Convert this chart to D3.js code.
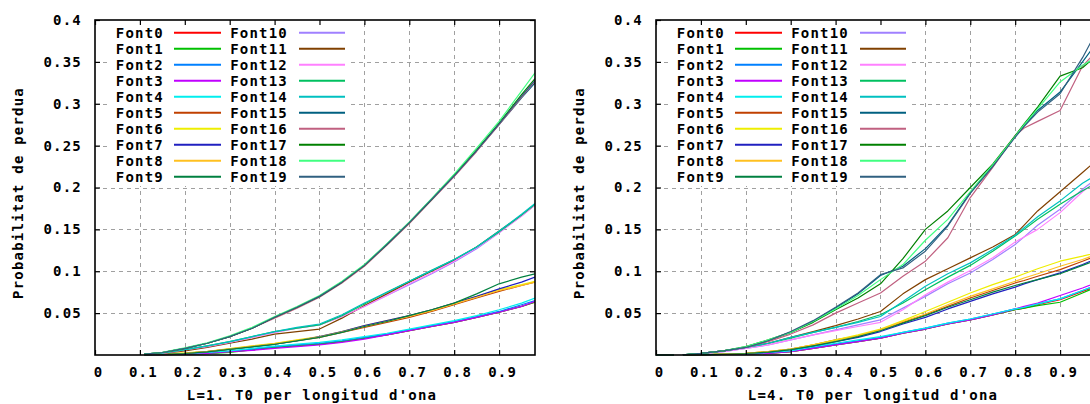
<!DOCTYPE html>
<html><head><meta charset="utf-8">
<script src="https://cdn.jsdelivr.net/npm/d3@7"></script>
<style>
body{margin:0;background:#fff}
text{font-family:"DejaVu Sans Mono","Liberation Mono",monospace;font-size:14px;font-weight:bold;letter-spacing:1.2px;fill:#000}
</style>
</head><body>
<svg id="c" width="1090" height="404"></svg>
<script>
// ---- data ----
const fontNames = ["Font0","Font1","Font2","Font3","Font4","Font5","Font6","Font7","Font8","Font9",
  "Font10","Font11","Font12","Font13","Font14","Font15","Font16","Font17","Font18","Font19"];
const fontColors = ["#ff0000","#00c000","#0080ff","#c000ff","#00eeee","#c04000","#eeee00","#2020c0","#ffc020","#008040",
  "#a080ff","#804000","#ff80ff","#00c060","#00c0c0","#006080","#c06080","#008000","#40ff80","#306080"];
const xTicks = [0,0.1,0.2,0.3,0.4,0.5,0.6,0.7,0.8,0.9];
const yTicks = [0.05,0.1,0.15,0.2,0.25,0.3,0.35,0.4];
const xLabels = ["L=1. T0 per longitud d'ona","L=4. T0 per longitud d'ona"];
const yLabel = "Probabilitat de perdua";

// L=1 panel
const leftX = [0.11,0.15,0.2,0.25,0.3,0.35,0.4,0.45,0.5,0.55,0.6,0.65,0.7,0.75,0.8,0.85,0.9,0.95,0.98];
const leftSeries = [
 [0.0003,0.0005,0.001,0.002,0.004,0.006,0.009,0.011,0.013,0.016,0.020,0.024,0.029,0.034,0.039,0.045,0.051,0.058,0.063], // Font0
 [0.0002,0.0004,0.0008,0.0015,0.003,0.006,0.009,0.011,0.013,0.016,0.020,0.024,0.029,0.034,0.039,0.045,0.051,0.058,0.063], // Font1
 [0.0003,0.0006,0.0012,0.0025,0.0045,0.007,0.010,0.012,0.014,0.017,0.021,0.025,0.030,0.035,0.040,0.046,0.052,0.060,0.065], // Font2
 [0.0003,0.0005,0.001,0.002,0.004,0.0055,0.008,0.010,0.012,0.015,0.019,0.024,0.029,0.034,0.039,0.045,0.051,0.058,0.064], // Font3
 [0.0004,0.0007,0.0015,0.003,0.005,0.008,0.0105,0.013,0.015,0.018,0.022,0.026,0.031,0.036,0.041,0.047,0.054,0.062,0.068], // Font4
 [0.0005,0.001,0.002,0.004,0.007,0.010,0.013,0.017,0.021,0.027,0.033,0.039,0.045,0.052,0.060,0.068,0.076,0.083,0.087], // Font5
 [0.0006,0.0012,0.0025,0.0045,0.0075,0.011,0.014,0.018,0.022,0.028,0.035,0.041,0.047,0.054,0.062,0.070,0.078,0.084,0.088], // Font6
 [0.0005,0.001,0.002,0.004,0.007,0.010,0.013,0.017,0.022,0.028,0.035,0.041,0.047,0.054,0.062,0.070,0.079,0.087,0.093], // Font7
 [0.0005,0.0011,0.0022,0.0042,0.0072,0.0105,0.0135,0.0175,0.0215,0.0275,0.034,0.040,0.046,0.053,0.061,0.069,0.077,0.083,0.087], // Font8
 [0.0004,0.0009,0.0018,0.0038,0.0068,0.0098,0.0128,0.0168,0.021,0.027,0.034,0.040,0.047,0.054,0.062,0.073,0.085,0.093,0.097], // Font9
 [0.001,0.002,0.006,0.010,0.015,0.021,0.027,0.032,0.036,0.046,0.058,0.071,0.084,0.097,0.111,0.127,0.146,0.166,0.179], // Font10
 [0.001,0.002,0.005,0.009,0.014,0.019,0.025,0.028,0.031,0.044,0.059,0.073,0.087,0.100,0.113,0.129,0.148,0.167,0.179], // Font11
 [0.001,0.002,0.006,0.010,0.015,0.021,0.027,0.032,0.036,0.046,0.058,0.071,0.085,0.098,0.112,0.128,0.146,0.166,0.179], // Font12
 [0.0012,0.0025,0.0065,0.011,0.016,0.022,0.028,0.032,0.036,0.047,0.061,0.075,0.088,0.101,0.114,0.129,0.147,0.167,0.180], // Font13
 [0.0012,0.0025,0.0065,0.011,0.016,0.022,0.028,0.033,0.037,0.048,0.062,0.075,0.088,0.101,0.114,0.129,0.148,0.168,0.181], // Font14
 [0.001,0.003,0.008,0.014,0.022,0.032,0.045,0.057,0.070,0.087,0.107,0.132,0.158,0.186,0.214,0.244,0.275,0.307,0.325], // Font15
 [0.001,0.003,0.008,0.014,0.022,0.032,0.044,0.056,0.069,0.086,0.106,0.131,0.157,0.185,0.213,0.243,0.275,0.308,0.327], // Font16
 [0.001,0.003,0.008,0.014,0.022,0.032,0.045,0.057,0.070,0.087,0.107,0.132,0.158,0.186,0.215,0.245,0.277,0.311,0.330], // Font17
 [0.0012,0.0032,0.0085,0.0145,0.023,0.033,0.046,0.058,0.071,0.088,0.108,0.133,0.159,0.187,0.216,0.247,0.279,0.315,0.337], // Font18
 [0.001,0.003,0.008,0.014,0.022,0.032,0.045,0.057,0.070,0.087,0.107,0.132,0.158,0.186,0.214,0.244,0.276,0.309,0.328]  // Font19
];

// L=4 panel (null = gap in the data)
const rightX = [0,0.04,0.05,0.06,0.1,0.15,0.2,0.25,0.3,0.35,0.4,0.45,0.5,0.55,0.6,0.65,0.7,0.75,0.8,0.82,0.85,0.9,0.95,0.98];
const rightSeries = [
 [0,0,null,0.0001,0.0003,0.0006,0.001,0.002,0.004,0.008,0.012,0.016,0.020,0.026,0.031,0.037,0.042,0.048,0.054,0.056,0.060,0.066,0.076,0.082], // Font0
 [0,0,null,0.0001,0.0003,0.0006,0.001,0.002,0.004,0.008,0.012,0.016,0.020,0.026,0.031,0.037,0.042,0.048,0.054,0.056,0.059,0.063,0.074,0.081], // Font1
 [0,0,null,0.0001,0.0003,0.0007,0.0012,0.0025,0.0045,0.009,0.013,0.017,0.021,0.027,0.032,0.038,0.043,0.049,0.055,0.057,0.061,0.067,0.077,0.083], // Font2
 [0,0,null,0.0001,0.0003,0.0006,0.001,0.002,0.004,0.008,0.012,0.016,0.020,0.026,0.031,0.037,0.042,0.048,0.055,0.058,0.062,0.071,0.080,0.086], // Font3
 [0,0,null,0.0001,0.0004,0.0008,0.0014,0.003,0.005,0.010,0.014,0.018,0.022,0.027,0.032,0.038,0.043,0.049,0.055,0.057,0.061,0.067,0.077,0.083], // Font4
 [0,0,null,0.0001,0.0004,0.001,0.002,0.004,0.007,0.012,0.018,0.023,0.030,0.039,0.048,0.058,0.068,0.077,0.086,0.089,0.094,0.102,0.112,0.118], // Font5
 [0,0,null,0.0002,0.0005,0.001,0.002,0.004,0.007,0.012,0.018,0.024,0.031,0.041,0.052,0.063,0.074,0.084,0.093,0.097,0.103,0.112,0.118,0.122], // Font6
 [0,0,null,0.0001,0.0004,0.0009,0.0018,0.0035,0.0065,0.011,0.016,0.021,0.028,0.037,0.045,0.055,0.064,0.073,0.081,0.085,0.090,0.098,0.108,0.115], // Font7
 [0,0,null,0.0002,0.0005,0.001,0.002,0.004,0.007,0.012,0.017,0.023,0.030,0.040,0.049,0.060,0.070,0.079,0.088,0.092,0.097,0.106,0.114,0.120], // Font8
 [0,0,null,0.0001,0.0004,0.0009,0.0018,0.0035,0.0065,0.011,0.016,0.022,0.029,0.038,0.047,0.057,0.066,0.075,0.083,0.086,0.090,0.097,0.107,0.113], // Font9
 [0,0,null,0.0003,0.0015,0.004,0.008,0.012,0.018,0.024,0.030,0.036,0.042,0.056,0.070,0.085,0.098,0.114,0.132,0.141,0.155,0.174,0.198,0.210], // Font10
 [0,0,null,0.0003,0.002,0.005,0.009,0.014,0.021,0.028,0.035,0.043,0.052,0.073,0.090,0.103,0.116,0.129,0.144,0.155,0.172,0.195,0.218,0.232], // Font11
 [0,0,null,0.0003,0.0015,0.004,0.008,0.012,0.018,0.024,0.029,0.034,0.039,0.054,0.072,0.087,0.101,0.116,0.135,0.141,0.150,0.170,0.195,0.207], // Font12
 [0,0,null,0.0003,0.002,0.005,0.009,0.014,0.020,0.027,0.033,0.040,0.048,0.062,0.078,0.093,0.107,0.124,0.142,0.150,0.162,0.180,0.196,0.205], // Font13
 [0,0,null,0.0003,0.002,0.005,0.009,0.014,0.021,0.027,0.033,0.039,0.046,0.064,0.082,0.097,0.110,0.126,0.143,0.152,0.165,0.184,0.205,0.215], // Font14
 [0,0,null,0.0003,0.002,0.005,0.009,0.017,0.027,0.040,0.056,0.073,0.095,0.106,0.127,0.155,0.194,0.226,0.261,0.274,0.292,0.314,0.350,0.372], // Font15
 [0,0,null,0.0003,0.002,0.005,0.009,0.016,0.025,0.036,0.050,0.062,0.074,0.094,0.112,0.140,0.188,0.224,0.262,0.271,0.279,0.292,0.345,0.362], // Font16
 [0,0,null,0.0003,0.002,0.005,0.010,0.018,0.027,0.039,0.054,0.068,0.085,0.115,0.150,0.172,0.200,0.228,0.262,0.276,0.296,0.333,0.343,0.357], // Font17
 [0,0,null,0.0003,0.002,0.005,0.010,0.018,0.027,0.040,0.055,0.071,0.090,0.108,0.137,0.162,0.195,0.227,0.261,0.275,0.294,0.326,0.346,0.355], // Font18
 [0,0,null,0.0003,0.002,0.005,0.009,0.017,0.028,0.041,0.057,0.074,0.096,0.104,0.124,0.154,0.193,0.225,0.260,0.273,0.290,0.312,0.355,0.385]  // Font19
];

// ---- drawing ----
const svg = d3.select("#c");
const PW = 440, TOP = 20, BOT = 355;
const panels = [
  {x0: 95, xs: leftX, series: leftSeries, xlabel: xLabels[0]},
  {x0: 656, xs: rightX, series: rightSeries, xlabel: xLabels[1]}
];

panels.forEach((p, pi) => {
  const x = d3.scaleLinear().domain([0, 0.98]).range([p.x0, p.x0 + PW]);
  const y = d3.scaleLinear().domain([0, 0.4]).range([BOT, TOP]);
  const g = svg.append("g");

  // grid
  const grid = g.append("g").attr("stroke", "#a0a0a0").attr("stroke-width", 1)
    .attr("stroke-dasharray", "4,4").attr("shape-rendering", "crispEdges");
  grid.selectAll("line.v").data(xTicks.filter(v => v > 0)).join("line")
    .attr("x1", d => Math.round(x(d)) + 0.5).attr("x2", d => Math.round(x(d)) + 0.5)
    .attr("y1", BOT).attr("y2", TOP);
  grid.selectAll("line.h").data(yTicks.filter(v => v < 0.4)).join("line")
    .attr("y1", d => Math.round(y(d)) + 0.5).attr("y2", d => Math.round(y(d)) + 0.5)
    .attr("x1", p.x0).attr("x2", p.x0 + PW);

  // opaque key background
  g.append("rect").attr("x", p.x0 + 13).attr("y", TOP + 1)
    .attr("width", 243).attr("height", 165).attr("fill", "#fff");

  // series
  const clipId = "clip" + pi;
  svg.append("clipPath").attr("id", clipId).append("rect")
    .attr("x", p.x0).attr("y", TOP).attr("width", PW).attr("height", BOT - TOP + 1);
  const line = d3.line().defined(d => d[1] != null).x(d => x(d[0])).y(d => y(d[1]));
  const lg = g.append("g").attr("clip-path", `url(#${clipId})`);
  p.series.forEach((s, i) => {
    lg.append("path").datum(p.xs.map((xv, k) => [xv, s[k]]))
      .attr("d", line).attr("fill", "none").attr("stroke", fontColors[i])
      .attr("stroke-width", 1.2).attr("stroke-linejoin", "round");
  });

  // axes
  const ax = g.append("g");
  const left = d3.axisLeft(y).tickValues(yTicks).tickSizeInner(-5).tickSizeOuter(0).tickPadding(13)
    .tickFormat(d3.format("~g"));
  ax.append("g").attr("transform", `translate(${p.x0},0)`).call(left);
  const right = d3.axisRight(y).tickValues(yTicks).tickSizeInner(-5).tickSizeOuter(0).tickFormat("");
  ax.append("g").attr("transform", `translate(${p.x0 + PW},0)`).call(right);
  const bottom = d3.axisBottom(x).tickValues(xTicks).tickSizeInner(-5).tickSizeOuter(0).tickPadding(12)
    .tickFormat(d3.format("~g"));
  const bAx = ax.append("g").attr("transform", `translate(0,${BOT})`).call(bottom);
  const topAx = d3.axisTop(x).tickValues(xTicks).tickSizeInner(-5).tickSizeOuter(0).tickFormat("");
  ax.append("g").attr("transform", `translate(0,${TOP})`).call(topAx);
  ax.selectAll(".domain").remove();
  ax.selectAll(".tick line").attr("stroke", "#000").attr("stroke-width", 1.2);
  ax.selectAll(".tick text").attr("font-family", null).attr("font-size", null).attr("fill", "#000");
  bAx.selectAll(".tick text").attr("dx", 3);

  // frame
  g.append("rect").attr("x", p.x0).attr("y", TOP).attr("width", PW).attr("height", BOT - TOP)
    .attr("fill", "none").attr("stroke", "#000").attr("stroke-width", 1.6);

  // key
  const key = g.append("g");
  fontNames.forEach((n, i) => {
    const col = Math.floor(i / 10), row = i % 10;
    const cy = 32.7 + row * 16;
    key.append("text").attr("x", p.x0 + 69 + col * 124).attr("y", cy).attr("dy", "0.36em")
      .attr("text-anchor", "end").text(n);
    key.append("line").attr("x1", p.x0 + 79 + col * 125).attr("x2", p.x0 + 126 + col * 124)
      .attr("y1", cy).attr("y2", cy).attr("stroke", fontColors[i]).attr("stroke-width", 2);
  });

  // axis labels
  g.append("text").attr("transform", `translate(${p.x0 - 72},193) rotate(-90)`)
    .attr("text-anchor", "middle").text(yLabel);
  g.append("text").attr("x", p.x0 + 217).attr("y", 400).attr("text-anchor", "middle").text(p.xlabel);
});
</script>
</body></html>
